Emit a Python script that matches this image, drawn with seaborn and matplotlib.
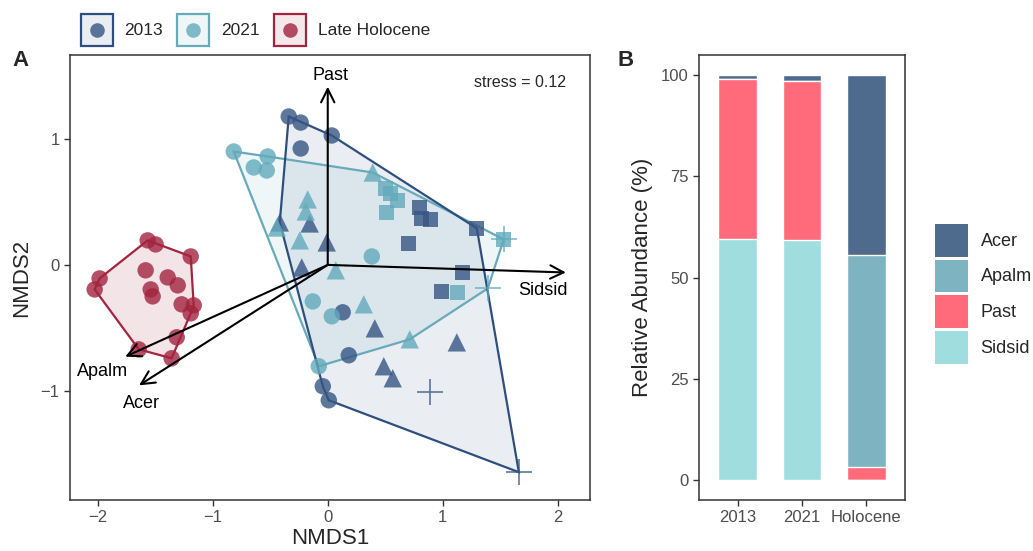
import numpy as np
import pandas as pd
import matplotlib
matplotlib.use("Agg")
import matplotlib.pyplot as plt
import seaborn as sns
from matplotlib.patches import Rectangle
from matplotlib.lines import Line2D
from matplotlib.legend_handler import HandlerTuple, HandlerLine2D

# NMDS scores (panel A)
nmds1_2013 = [-0.339, -0.235, 0.035, -0.235, 0.130, 0.183, -0.043, 0.009,
              -0.417, -0.157, -0.009, -0.226, 0.409, 1.122, 0.487, 0.565,
              0.800, 0.817, 0.896, 1.296, 0.704, 1.174, 0.991,
              0.887, 1.661]
nmds2_2013 = [1.174, 1.126, 1.024, 0.921, -0.375, -0.715, -0.960, -1.071,
              0.336, 0.328, 0.178, -0.020, -0.502, -0.613, -0.802, -0.897,
              0.455, 0.368, 0.360, 0.289, 0.170, -0.059, -0.209,
              -1.008, -1.640]
shape_2013 = ["circle"] * 8 + ["triangle"] * 8 + ["square"] * 7 + ["plus"] * 2

nmds1_2021 = [-0.817, -0.522, -0.643, -0.530, 0.383, -0.130, 0.035, -0.078,
              0.391, -0.174, -0.191, -0.443, -0.243, 0.070, 0.313, 0.713,
              0.504, 0.548, 0.609, 0.513, 1.130, 1.530,
              1.530, 1.391]
nmds2_2021 = [0.897, 0.858, 0.771, 0.747, 0.067, -0.289, -0.407, -0.802,
              0.731, 0.518, 0.423, 0.296, 0.194, -0.043, -0.312, -0.589,
              0.605, 0.565, 0.510, 0.415, -0.217, 0.202,
              0.202, -0.186]
shape_2021 = ["circle"] * 8 + ["triangle"] * 8 + ["square"] * 6 + ["plus"] * 2

nmds1_holo = [-1.565, -1.496, -1.191, -1.983, -2.026, -1.583, -1.391, -1.304,
              -1.539, -1.522, -1.270, -1.165, -1.191, -1.313, -1.643, -1.357]
nmds2_holo = [0.194, 0.162, 0.067, -0.107, -0.194, -0.043, -0.099, -0.162,
              -0.194, -0.249, -0.312, -0.320, -0.383, -0.573, -0.668, -0.739]

# species vectors
species = ["Past", "Sidsid", "Apalm", "Acer"]
vec1 = [0.0, 2.07, -1.76, -1.64]
vec2 = [1.41, -0.06, -0.726, -0.953]
lab1 = [0.02, 1.87, -1.96, -1.62]
lab2 = [1.50, -0.20, -0.84, -1.10]

# relative abundance (panel B)
periods = ["2013", "2021", "Holocene"]
sidsid = [59.5, 59.3, 0.0]
past = [39.5, 39.3, 3.2]
apalm = [0.0, 0.0, 52.3]
acer = [1.0, 1.4, 44.5]

groups = ["2013", "2021", "Late Holocene"]
pt_col = {"2013": "#365683", "2021": "#62AABC", "Late Holocene": "#A2243F"}
edge_col = {"2013": "#2E4F7E", "2021": "#67AABA", "Late Holocene": "#A2243F"}
sp_col = {"Acer": "#4E6A8D", "Apalm": "#7EB3C2", "Past": "#FF6B7A", "Sidsid": "#A0DDDF"}

df = pd.concat([
    pd.DataFrame({"NMDS1": nmds1_2013, "NMDS2": nmds2_2013, "group": "2013", "shape": shape_2013}),
    pd.DataFrame({"NMDS1": nmds1_2021, "NMDS2": nmds2_2021, "group": "2021", "shape": shape_2021}),
    pd.DataFrame({"NMDS1": nmds1_holo, "NMDS2": nmds2_holo, "group": "Late Holocene", "shape": "circle"}),
], ignore_index=True)


def hull(pts):
    pts = sorted(map(tuple, pts))
    def cross(o, a, b):
        return (a[0] - o[0]) * (b[1] - o[1]) - (a[1] - o[1]) * (b[0] - o[0])
    lower, upper = [], []
    for p in pts:
        while len(lower) >= 2 and cross(lower[-2], lower[-1], p) <= 0:
            lower.pop()
        lower.append(p)
    for p in reversed(pts):
        while len(upper) >= 2 and cross(upper[-2], upper[-1], p) <= 0:
            upper.pop()
        upper.append(p)
    return np.array(lower[:-1] + upper[:-1])


# marker centred in the legend key box
class CentredMarker(HandlerLine2D):
    def create_artists(self, legend, orig_handle, xdescent, ydescent, width, height, fontsize, trans):
        arts = super().create_artists(legend, orig_handle, xdescent, ydescent, width, height, fontsize, trans)
        for a in arts:
            n = len(a.get_xdata())
            a.set_ydata(np.full(n, height / 2 - ydescent))
        return arts


sns.set_style("white")
plt.rcParams["font.family"] = ["Liberation Sans", "DejaVu Sans"]

fig = plt.figure(figsize=(10.33, 5.51), dpi=100)
axA = fig.add_axes([0.0678, 0.0926, 0.5034, 0.8074])
axB = fig.add_axes([0.6767, 0.0926, 0.1994, 0.8074])

# ---- panel A
fills = {"2013": 0.10, "2021": 0.10, "Late Holocene": 0.12}
for g in ["Late Holocene", "2021", "2013"]:
    sub = df[df.group == g]
    h = hull(sub[["NMDS1", "NMDS2"]].values)
    axA.fill(h[:, 0], h[:, 1], facecolor=pt_col[g], alpha=fills[g], edgecolor="none", zorder=1)
    axA.fill(h[:, 0], h[:, 1], facecolor="none", edgecolor=edge_col[g], lw=1.6, zorder=2)

filled = df[df["shape"] != "plus"]
sns.scatterplot(data=filled, x="NMDS1", y="NMDS2", hue="group", style="shape",
                size="shape", sizes={"circle": 140, "triangle": 175, "square": 120},
                markers={"circle": "o", "triangle": "^", "square": "s"},
                palette=pt_col, alpha=0.8, linewidth=0, legend=False, ax=axA, zorder=3)
plus = df[df["shape"] == "plus"]
for g in ["2013", "2021"]:
    sub = plus[plus.group == g]
    axA.scatter(sub.NMDS1, sub.NMDS2, marker="+", s=330, color=pt_col[g], alpha=0.8,
                linewidths=1.2, zorder=3)

for sp, a, b, lx, ly in zip(species, vec1, vec2, lab1, lab2):
    axA.annotate("", xy=(a, b), xytext=(0, 0),
                 arrowprops=dict(arrowstyle="->", lw=1.5, color="black",
                                 mutation_scale=24, shrinkA=0, shrinkB=0), zorder=4)
    axA.text(lx, ly, sp, ha="center", va="center", fontsize=13, color="black", zorder=5)

axA.text(2.07, 1.44, "stress = 0.12", ha="right", va="center", fontsize=11.5)
axA.set_xlim(-2.24, 2.28)
axA.set_ylim(-1.86, 1.66)
axA.set_xticks([-2, -1, 0, 1, 2])
axA.set_xticklabels(["\u22122", "\u22121", "0", "1", "2"])
axA.set_yticks([-1, 0, 1])
axA.set_yticklabels(["\u22121", "0", "1"])
axA.set_xlabel("NMDS1", fontsize=16, labelpad=2)
axA.set_ylabel("NMDS2", fontsize=16, labelpad=6)

# ---- panel B (cumulative overlay)
layers = [("Acer", acer), ("Apalm", apalm), ("Past", past), ("Sidsid", sidsid)]
cum = np.array(sidsid) + np.array(past) + np.array(apalm) + np.array(acer)
for name, vals in layers:
    sns.barplot(x=periods, y=cum, color=sp_col[name], saturation=1, width=0.6, ax=axB)
    cum = cum - np.array(vals)
axB.set_xlim(-0.6, 2.6)
axB.set_ylim(-5, 105)
axB.set_yticks([0, 25, 50, 75, 100])
axB.set_ylabel("Relative Abundance (%)", fontsize=16, labelpad=6)
axB.set_xlabel("")

for ax in (axA, axB):
    for s in ax.spines.values():
        s.set_visible(True)
        s.set_color("#333333")
        s.set_linewidth(1.1)
    ax.tick_params(axis="both", which="both", direction="out", length=4.5, width=1,
                   color="#333333", labelsize=12, labelcolor="#4D4D4D", pad=3,
                   bottom=True, left=True)

# legends
hA = [(Rectangle((0, 0), 1, 1, facecolor=matplotlib.colors.to_rgba(pt_col[g], 0.1),
                 edgecolor=edge_col[g], lw=1.6),
       Line2D([], [], marker="o", ls="none", markersize=10.5, color=pt_col[g],
              alpha=0.8, markeredgewidth=0)) for g in groups]
fig.legend(hA, groups, loc="upper left", bbox_to_anchor=(0.078, 0.975), ncol=3,
           frameon=False, fontsize=12.5, handlelength=1.85, handleheight=2.5,
           handletextpad=0.65, columnspacing=0.85, borderpad=0, borderaxespad=0,
           handler_map={tuple: HandlerTuple(ndivide=1, pad=0),
                        Line2D: CentredMarker()})

hB = [Rectangle((0, 0), 1, 1, facecolor=sp_col[s], edgecolor="none") for s in ["Acer", "Apalm", "Past", "Sidsid"]]
fig.legend(hB, ["Acer", "Apalm", "Past", "Sidsid"], loc="upper left",
           bbox_to_anchor=(0.905, 0.5935), frameon=False, fontsize=13,
           handlelength=1.83, handleheight=2.4, labelspacing=0.17, handletextpad=0.7,
           borderpad=0, borderaxespad=0)

fig.text(0.012, 0.89, "A", fontsize=16, fontweight="bold", va="center")
fig.text(0.598, 0.89, "B", fontsize=16, fontweight="bold", va="center")

fig.savefig("out.png", dpi=100)
